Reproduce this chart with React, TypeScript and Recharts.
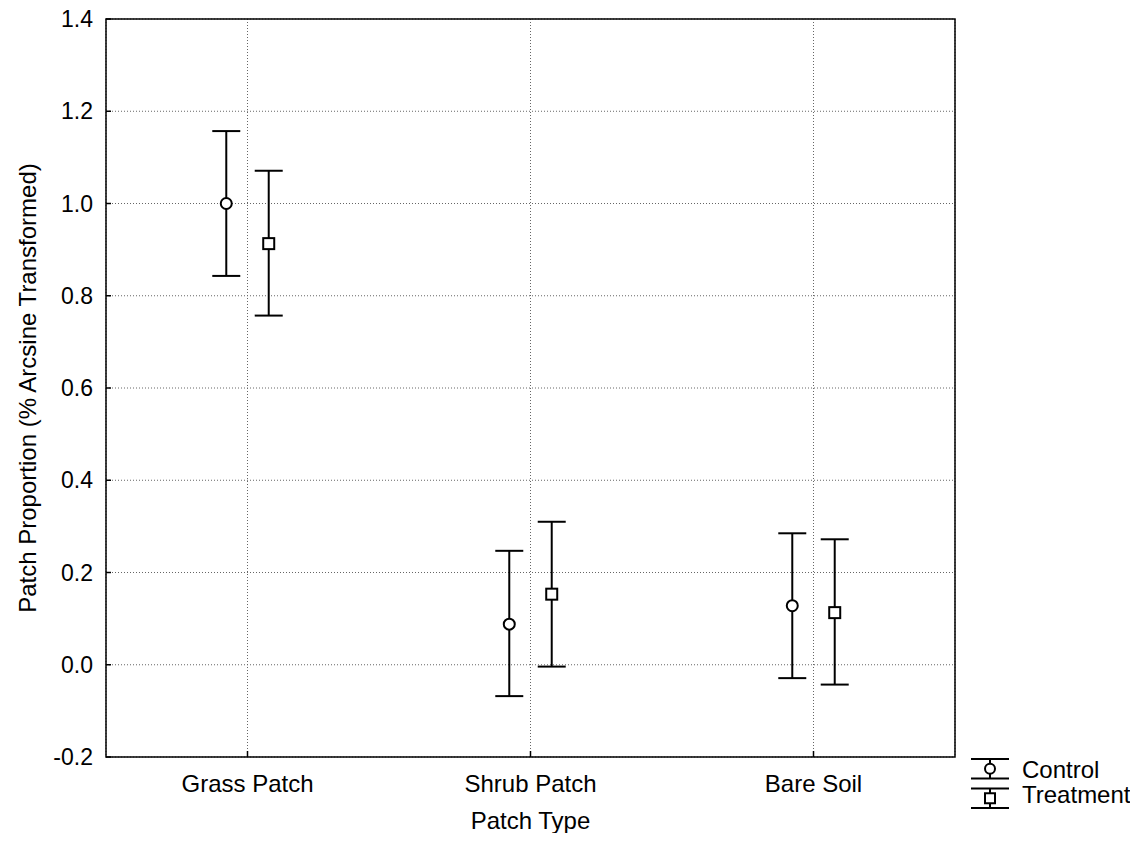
import { ScatterChart, Scatter, XAxis, YAxis, CartesianGrid, ErrorBar, ReferenceArea, Legend, Label } from 'recharts';

const categories = ['Grass Patch', 'Shrub Patch', 'Bare Soil'];
const controlMean = [1.0, 0.088, 0.128];
const controlLow = [0.843, -0.068, -0.029];
const controlHigh = [1.157, 0.247, 0.285];
const treatmentMean = [0.913, 0.153, 0.113];
const treatmentLow = [0.757, -0.004, -0.043];
const treatmentHigh = [1.071, 0.31, 0.272];
const yTicks = [-0.2, 0, 0.2, 0.4, 0.6, 0.8, 1.0, 1.2, 1.4];

const SHIFT = 0.075; // side-by-side offset within a category
const FONT = '"Liberation Sans", Arial, sans-serif';

const build = (mean: number[], low: number[], high: number[], dir: number) =>
  categories.map((c, i) => ({
    name: c,
    x: i + 0.5 + dir * SHIFT,
    y: mean[i],
    err: [mean[i] - low[i], high[i] - mean[i]],
  }));

const controlData = build(controlMean, controlLow, controlHigh, -1);
const treatmentData = build(treatmentMean, treatmentLow, treatmentHigh, 1);

const CircleDot = (p: any) => (
  <circle cx={p.cx} cy={p.cy} r={5.5} fill="#fff" stroke="#000" strokeWidth={2} />
);
const SquareDot = (p: any) => (
  <rect x={p.cx - 5.5} y={p.cy - 5.5} width={11} height={11} fill="#fff" stroke="#000" strokeWidth={2} />
);

const YTick = (p: any) => (
  <g>
    <line x1={p.x + 13} x2={p.x + 18} y1={p.y} y2={p.y} stroke="#000" strokeWidth={1.5} />
    <text x={p.x} y={p.y} dy="0.355em" textAnchor="end" fontSize={23} fontFamily={FONT} fill="#000">
      {Number(p.payload.value).toFixed(1)}
    </text>
  </g>
);

const XTick = (p: any) => (
  <g>
    <line x1={p.x} x2={p.x} y1={p.y - 18} y2={p.y - 24} stroke="#000" strokeWidth={1.5} />
    <text x={p.x} y={p.y} dy="0.71em" textAnchor="middle" fontSize={24} fontFamily={FONT} fill="#000">
      {categories[Math.floor(p.payload.value)]}
    </text>
  </g>
);

const LegendBox = (props: any) => {
  const items = props.payload || [];
  return (
    <svg width={178} height={70}>
      {items.map((entry: any, i: number) => {
        const top = 9 + i * 29.5;
        const bot = top + 19.5;
        const mid = (top + bot) / 2;
        return (
          <g key={entry.value}>
            <line x1={11} x2={49} y1={top} y2={top} stroke="#000" strokeWidth={2} />
            <line x1={11} x2={49} y1={bot} y2={bot} stroke="#000" strokeWidth={2} />
            <line x1={30} x2={30} y1={top} y2={bot} stroke="#000" strokeWidth={2} />
            {i === 0 ? (
              <circle cx={30} cy={mid} r={5} fill="#fff" stroke="#000" strokeWidth={2} />
            ) : (
              <rect x={25} y={mid - 5} width={10} height={10} fill="#fff" stroke="#000" strokeWidth={2} />
            )}
            <text x={62} y={28 + i * 25} fontSize={24} fontFamily={FONT} fill="#000">
              {entry.value}
            </text>
          </g>
        );
      })}
    </svg>
  );
};

export default function App() {
  return (
    <div style={{ margin: -8, width: 1138, height: 841, background: '#fff' }}>
      <ScatterChart width={1138} height={841} margin={{ top: 19, right: 183, bottom: 0, left: 0 }}>
        <CartesianGrid stroke="#666" strokeDasharray="1 2" />
        <XAxis
          type="number"
          dataKey="x"
          domain={[0, 3]}
          ticks={[0.5, 1.5, 2.5]}
          height={84}
          tickSize={0}
          tickMargin={18}
          axisLine={false}
          tick={<XTick />}
          allowDataOverflow
        >
          <Label
            content={(p: any) => {
              const vb = p.viewBox;
              return (
                <text x={vb.x + vb.width / 2} y={829} textAnchor="middle" fontSize={24} fontFamily={FONT} fill="#000">
                  Patch Type
                </text>
              );
            }}
          />
        </XAxis>
        <YAxis
          type="number"
          dataKey="y"
          domain={[-0.2, 1.4]}
          ticks={yTicks}
          width={106}
          tickSize={0}
          tickMargin={13}
          axisLine={false}
          tick={<YTick />}
          allowDataOverflow
        >
          <Label
            content={(p: any) => {
              const vb = p.viewBox;
              const cx = vb.x + 27;
              const cy = vb.y + vb.height / 2;
              return (
                <text
                  x={cx}
                  y={cy}
                  transform={`rotate(-90, ${cx}, ${cy})`}
                  textAnchor="middle"
                  dominantBaseline="central"
                  fontSize={24}
                  fontFamily={FONT}
                  fill="#000"
                >
                  Patch Proportion (% Arcsine Transformed)
                </text>
              );
            }}
          />
        </YAxis>
        <ReferenceArea x1={0} x2={3} y1={-0.2} y2={1.4} fill="none" stroke="#000" strokeWidth={1.5} fillOpacity={0} />
        <Scatter name="Control" data={controlData} shape={<CircleDot />} isAnimationActive={false} legendType="circle">
          <ErrorBar dataKey="err" direction="y" width={14} stroke="#000" strokeWidth={2} />
        </Scatter>
        <Scatter name="Treatment" data={treatmentData} shape={<SquareDot />} isAnimationActive={false} legendType="square">
          <ErrorBar dataKey="err" direction="y" width={14} stroke="#000" strokeWidth={2} />
        </Scatter>
        <Legend
          layout="horizontal"
          align="center"
          verticalAlign="middle"
          content={<LegendBox />}
          wrapperStyle={{ left: 960, top: 750, width: 178, height: 70 }}
        />
      </ScatterChart>
    </div>
  );
}
